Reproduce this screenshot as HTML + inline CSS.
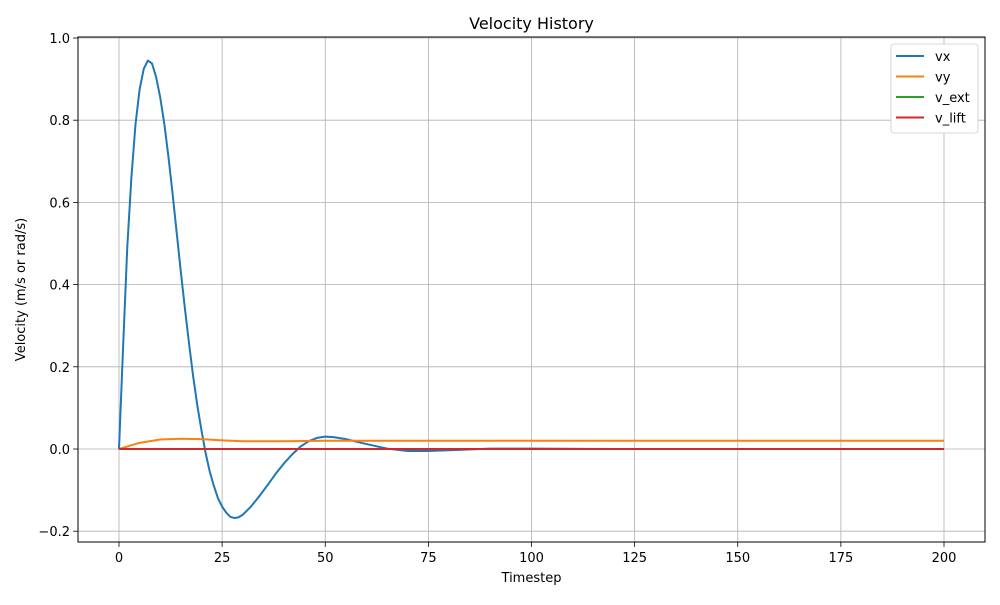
<!DOCTYPE html>
<html><head><meta charset="utf-8"><style>
body{margin:0;background:#fff;font-family:"Liberation Sans","DejaVu Sans",sans-serif}
text{font-family:"DejaVu Sans","Liberation Sans",sans-serif}
</style></head><body>
<svg id="chart" width="1000" height="600" xmlns="http://www.w3.org/2000/svg">
<rect width="1000" height="600" fill="#fff"/>
<g id="grid"></g><g id="series"></g><g id="axes"></g>
</svg>
<script>
const xTicks=[0,25,50,75,100,125,150,175,200];
const yTicks=[-0.2,0,0.2,0.4,0.6,0.8,1.0];
const yTickLabels=["\u22120.2","0.0","0.2","0.4","0.6","0.8","1.0"];
const vxX=[0,1,2,3,4,5,6,7,8,9,10,11,12,13,14,15,16,17,18,19,20,21,22,23,24,25,26,27,28,29,30,32,34,36,38,40,42,44,46,48,50,52,55,60,65,70,75,80,90,100,120,200];
const vxY=[0,0.25,0.49,0.66,0.79,0.875,0.925,0.945,0.938,0.905,0.855,0.79,0.71,0.62,0.525,0.43,0.34,0.255,0.175,0.105,0.045,-0.01,-0.055,-0.09,-0.12,-0.14,-0.155,-0.165,-0.168,-0.166,-0.16,-0.14,-0.115,-0.088,-0.06,-0.035,-0.013,0.006,0.019,0.027,0.03,0.029,0.024,0.012,0.001,-0.005,-0.005,-0.003,0.001,0.001,0,0];
const vyX=[0,5,10,15,20,25,30,40,50,200];
const vyY=[0,0.015,0.023,0.025,0.024,0.021,0.019,0.019,0.02,0.02];
const extX=[0,200], extY=[0,0];
const liftX=[0,200], liftY=[0,0];
const L=78,R=985,T=37,B=542;
const sx=v=>119+(v-0)*(944-119)/200;
const sy=v=>449-v*411;
const NS="http://www.w3.org/2000/svg";
function mk(tag,attrs,parent,txt){const e=document.createElementNS(NS,tag);for(const k in attrs)e.setAttribute(k,attrs[k]);if(txt!==undefined)e.textContent=txt;parent.appendChild(e);return e;}
const grid=document.getElementById('grid'),ser=document.getElementById('series'),ax=document.getElementById('axes');
xTicks.forEach(t=>{const x=sx(t);
 const g=mk('line',{x1:x,x2:x,y1:T,y2:B,stroke:'#b0b0b0','stroke-width':0.8},grid);
 
 
 mk('line',{x1:x,x2:x,y1:B,y2:B+4.9,stroke:'#000','stroke-width':0.8},ax);
 const l=mk('text',{x:x,y:B+20,'font-size':13,'text-anchor':'middle'},ax,String(t));
 
 
});
yTicks.forEach((t,i)=>{const y=sy(t);
 const g=mk('line',{x1:L,x2:R,y1:y,y2:y,stroke:'#b0b0b0','stroke-width':0.8},grid);
 
 
 mk('line',{x1:L-4.9,x2:L,y1:y,y2:y,stroke:'#000','stroke-width':0.8},ax);
 const l=mk('text',{x:L-8,y:y+5,'font-size':13,'text-anchor':'end'},ax,yTickLabels[i]);
 
 
});
function line(xs,ys,color,name){
 const p=mk('polyline',{points:xs.map((x,i)=>sx(x)+','+sy(ys[i])).join(' '),fill:'none',stroke:color,'stroke-width':2,'stroke-linejoin':'round'},ser);
 
 
}
line(vxX,vxY,'#1f77b4','series-vx');
line(vyX,vyY,'#ff7f0e','series-vy');
line(extX,extY,'#2ca02c','series-v-ext');
line(liftX,liftY,'#d62728','series-v-lift');
const frame=mk('rect',{x:L,y:T,width:R-L,height:B-T,fill:'none',stroke:'#000','stroke-width':1},ax);


const title=mk('text',{x:(L+R)/2,y:29,'font-size':16,'text-anchor':'middle'},ax,'Velocity History');


const xt=mk('text',{x:(L+R)/2,y:582,'font-size':13,'text-anchor':'middle'},ax,'Timestep');


const yt=mk('text',{x:25,y:(T+B)/2,'font-size':13,'text-anchor':'middle',transform:'rotate(-90 25 '+((T+B)/2)+')'},ax,'Velocity (m/s or rad/s)');


const lg=mk('g',{},ax);


mk('rect',{x:891,y:44,width:87,height:89,rx:3,fill:'#fff',stroke:'#ccc','stroke-width':0.8},lg);
[['vx','#1f77b4'],['vy','#ff7f0e'],['v_ext','#2ca02c'],['v_lift','#d62728']].forEach((d,i)=>{
 const y=56+i*20.5;
 const e=mk('g',{},lg);
 
 
 mk('line',{x1:896,x2:924,y1:y,y2:y,stroke:d[1],'stroke-width':2},e);
 mk('text',{x:935,y:y+5,'font-size':13},e,d[0]);
});
</script>
</body></html>
